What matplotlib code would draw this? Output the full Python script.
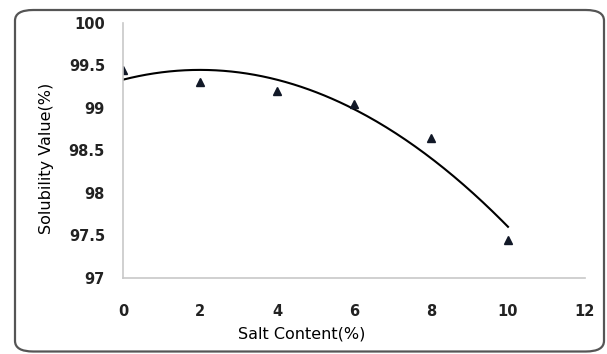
import numpy as np
import matplotlib.pyplot as plt
from matplotlib.patches import FancyBboxPatch

salt = [0, 2, 4, 6, 8, 10]
solubility = [99.45, 99.3, 99.2, 99.05, 98.65, 97.45]
xticks = [0, 2, 4, 6, 8, 10, 12]
yticks = [97, 97.5, 98, 98.5, 99, 99.5, 100]

fig = plt.figure(figsize=(6.07, 3.54), dpi=100)

# rounded frame round the whole chart
frame = FancyBboxPatch((15 / 607, 2.5 / 354), 589 / 607, 341.5 / 354,
                       boxstyle="round,pad=0,rounding_size=0.03",
                       transform=fig.transFigure, fill=False,
                       edgecolor='#555555', linewidth=1.6)
fig.patches.append(frame)

ax = fig.add_axes([123 / 607, 1 - 278 / 354, 462 / 607, 255.3 / 354])

# second order trendline through the points
coef = np.polyfit(salt, solubility, 2)
xs = np.linspace(0, 10, 200)
ax.plot(xs, np.polyval(coef, xs), color='black', lw=1.5)
ax.plot(salt, solubility, linestyle='none', marker='^', markersize=6,
        color='#111827')

ax.set_xlim(0, 12)
ax.set_ylim(97, 100)
ax.set_xticks(xticks)
ax.set_yticks(yticks)
ax.set_xticklabels([str(v) for v in xticks])
ax.set_yticklabels(['97', '97.5', '98', '98.5', '99', '99.5', '100'])
ax.tick_params(length=0, labelsize=10.5, colors='#222222')
ax.tick_params(axis='x', pad=19)
ax.tick_params(axis='y', pad=13)
for lab in ax.get_xticklabels() + ax.get_yticklabels():
    lab.set_fontweight('bold')
for s in ['top', 'right']:
    ax.spines[s].set_visible(False)
for s in ['left', 'bottom']:
    ax.spines[s].set_color('#c8c8c8')
    ax.spines[s].set_linewidth(1.2)

ax.set_xlabel('Salt Content(%)', fontsize=11.5)
ax.set_ylabel('Solubility Value(%)', fontsize=11.5)
ax.xaxis.set_label_coords(0.387, -0.19)
ax.yaxis.set_label_coords(-0.15, 0.47)

fig.savefig('out.png', dpi=100)
